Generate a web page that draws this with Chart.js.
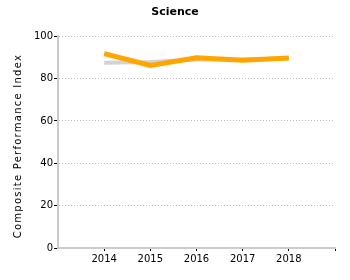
<!DOCTYPE html>
<html><head><meta charset="utf-8">
<script src="https://cdn.jsdelivr.net/npm/chart.js@4"></script>
<style>html,body{margin:0;padding:0;background:#fff}#w{width:350px;height:280px}</style>
</head><body><div id="w"><canvas id="c"></canvas></div>
<script>
const years = [2014, 2015, 2016, 2017, 2018];
const schoolValues = [91.8, 86.2, 89.8, 88.6, 89.7];
const stateValues = [87.5, 87.8, 89.0, 89.0, 89.5];
const yTicks = [0, 20, 40, 60, 80, 100];
const yTitle = 'Composite Performance Index';

const toPts = v => years.map((y, i) => ({x: y, y: v[i]}));
Chart.defaults.font.family = 'Verdana, "DejaVu Sans", sans-serif';
Chart.defaults.color = '#000';

const yTitlePlugin = {
  id: 'yTitle',
  afterDraw(chart) {
    const ctx = chart.ctx, a = chart.chartArea;
    ctx.save();
    ctx.font = '10px Verdana, "DejaVu Sans", sans-serif';
    ctx.fillStyle = '#000';
    ctx.letterSpacing = '1.25px';
    ctx.textAlign = 'center';
    ctx.textBaseline = 'middle';
    ctx.translate(18, (a.top + a.bottom) / 2 + 4);
    ctx.rotate(-Math.PI / 2);
    ctx.fillText(yTitle, 0, 0);
    ctx.restore();
  }
};

new Chart(document.getElementById('c'), {
  type: 'line',
  data: {
    datasets: [
      {label: 'School', data: toPts(schoolValues), borderColor: '#FFA500', borderWidth: 5, pointRadius: 0, tension: 0, order: 1},
      {label: 'State', data: toPts(stateValues), borderColor: '#D3D3D3', borderWidth: 4, pointRadius: 0, tension: 0, order: 2}
    ]
  },
  plugins: [yTitlePlugin],
  options: {
    responsive: true, maintainAspectRatio: false, animation: false,
    layout: {padding: {left: 0, right: 0, top: 0, bottom: 13}},
    plugins: {
      legend: {display: false}, tooltip: {enabled: false},
      title: {display: true, text: 'Science', font: {size: 11, weight: 'bold'}, padding: {top: 6, bottom: 17}}
    },
    scales: {
      x: {
        type: 'linear', min: 2013, max: 2019,
        afterBuildTicks: ax => { ax.ticks = [2014,2015,2016,2017,2018,2019].map(v => ({value: v})); },
        ticks: {font: {size: 10}, padding: 2, callback: v => years.includes(v) ? String(v) : ''},
        grid: {drawOnChartArea: false, drawTicks: true, tickLength: 3, tickColor: '#000'},
        border: {color: '#ccc', width: 2}
      },
      y: {
        min: 0, max: 100,
        afterBuildTicks: ax => { ax.ticks = yTicks.map(v => ({value: v})); },
        afterFit: ax => { ax.width = 58; },
        ticks: {font: {size: 10}, padding: 1},
        grid: {color: '#bbb', tickColor: '#000', tickLength: 4, lineWidth: 1},
        border: {color: '#ccc', width: 2, dash: [1, 2]},
        title: {display: false}
      },
      yRight: {
        type: 'linear', position: 'right', min: 0, max: 100,
        afterFit: ax => { ax.width = 15; },
        ticks: {display: false},
        grid: {display: false},
        border: {display: false}
      }
    }
  }
});
</script></body></html>
